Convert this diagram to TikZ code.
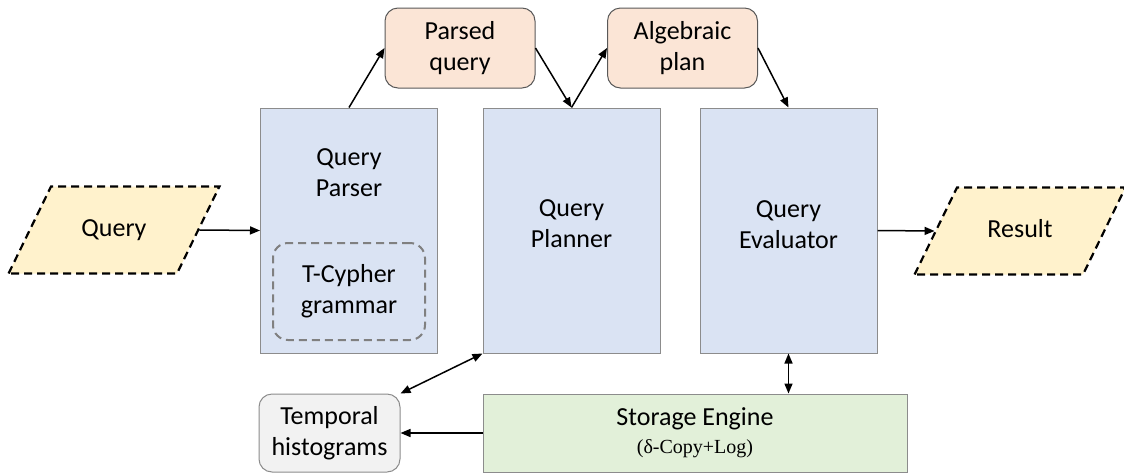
\documentclass[tikz,border=0pt]{standalone}
\usepackage{fontspec}
\setmainfont{Carlito}
\newfontfamily\serifz{Liberation Serif}
\usetikzlibrary{arrows.meta, shapes.geometric, positioning}

\definecolor{boxblue}{HTML}{DAE3F3}
\definecolor{boxpeach}{HTML}{FBE5D6}
\definecolor{boxgreen}{HTML}{E2F0D9}
\definecolor{boxgrey}{HTML}{F2F2F2}
\definecolor{ioyellow}{HTML}{FFF2CC}
\definecolor{edgegrey}{HTML}{8C8C8C}

\begin{document}
\begin{tikzpicture}[x=1pt, y=-1pt,
  every node/.style={font=\fontsize{26}{31}\selectfont, align=center, inner sep=0pt},
  module/.style={rectangle, draw=edgegrey, line width=1pt, fill=boxblue,
    minimum width=177pt, minimum height=245pt},
  artifact/.style={rectangle, rounded corners=13pt, draw=black!65, line width=1pt,
    fill=boxpeach, minimum width=150pt, minimum height=80pt},
  io/.style={trapezium, trapezium left angle=64, trapezium right angle=116,
    draw=black, line width=2.2pt, dash pattern=on 8pt off 5pt, fill=ioyellow,
    text width=100pt, text height=18pt, text depth=6pt,
    inner xsep=13pt, inner ysep=31.5pt},
  flow/.style={-{Triangle[length=10pt,width=8pt]}, line width=1.5pt},
  bothflow/.style={{Triangle[length=10pt,width=8pt]}-{Triangle[length=10pt,width=8pt]}, line width=1.5pt}
]

\useasboundingbox (0,0) rectangle (1124,472);

% Input / output
\node[io] (query)  at (114, 230)  {Query};
\node[io] (result) at (1020, 231) {Result};

% Main modules
\node[module, label={[below=41pt]north:Query\\Parser}] (parser) at (349, 230.5) {};
\node[rectangle, rounded corners=15pt, draw=black!50, line width=2pt,
  dash pattern=on 8pt off 5pt, minimum width=152pt, minimum height=97pt]
  (grammar) at (349, 291.5) {T-Cypher\\grammar};
\node[module, label={[yshift=7pt]center:Query\\Planner}] (planner) at (571.5, 230.5) {};
\node[module, label={[yshift=6pt]center:Query\\Evaluator}] (evaluator) at (788.5, 230.5) {};

% Intermediate results
\node[artifact] (parsed)  at (460, 48)   {Parsed\\query};
\node[artifact] (algebra) at (682.5, 48) {Algebraic\\plan};

% Storage layer
\node[rectangle, draw=edgegrey, line width=1pt, fill=boxgreen,
  minimum width=424pt, minimum height=78pt] (storage) at (695, 433)
  {Storage Engine\\[-3pt]{\serifz\fontsize{20}{22}\selectfont (δ-Copy+Log)}};
\node[rectangle, rounded corners=13pt, draw=edgegrey, line width=1pt, fill=boxgrey,
  minimum width=141pt, minimum height=78pt] (hist) at (329.5, 433)
  {Temporal\\histograms};

% ---- Edges ----
\draw[flow] (query.east) -- (parser.west);
\draw[flow] (parser.north) -- (parsed.west);
\draw[flow] (parsed.east) -- (planner.north);
\draw[flow] (planner.north) -- (algebra.west);
\draw[flow] (algebra.east) -- (evaluator.north);
\draw[flow] (evaluator.east) -- (result.west);

\draw[bothflow] (planner.south west) -- (hist.north east);
\draw[bothflow] (evaluator.south) -- (evaluator.south |- storage.north);
\draw[flow] (storage.west) -- (hist.east);

\end{tikzpicture}
\end{document}
